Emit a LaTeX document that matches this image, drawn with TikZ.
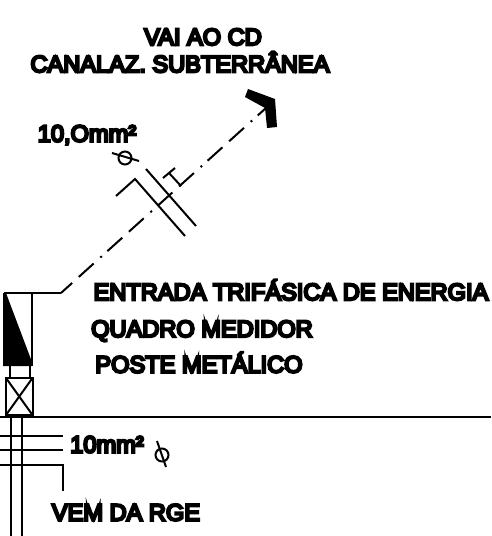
\documentclass[tikz,border=0pt]{standalone}
\usepackage{fontspec}
\newfontfamily\lblfont[FakeBold=10]{Liberation Sans}
\tikzset{
  wire/.style={line width=2pt,line cap=butt,line join=miter},
  lbl/.style={inner sep=0pt,font=\lblfont\fontsize{23.6}{23.6}\selectfont,text=black},
  axisline/.style={wire,dash pattern=on 20pt off 9pt on 20pt off 9pt on 2pt off 7.5pt,dash phase=5pt}
}
\begin{document}
\begin{tikzpicture}[x=1pt,y=-1pt]
\useasboundingbox (0,0) rectangle (491,536);
% labels
\node[lbl] (t1) at (203,37) {VAI AO CD};
\node[lbl] (t2) at (180,62) {CANALAZ. SUBTERRÂNEA};
\node[lbl] (t3) at (87,135) {10,Omm²};
\node[lbl] (t4) at (291,290) {ENTRADA TRIFÁSICA DE ENERGIA};
\node[lbl] (t5) at (202,331) {QUADRO MEDIDOR};
\node[lbl] (t6) at (199,362.5) {POSTE METÁLICO};
\node[lbl] (t7) at (107,444.5) {10mm²};
\node[lbl] (t8) at (126,512.5) {VEM DA RGE};
% route to CD
\coordinate (boxTL) at (4,293);
\coordinate (bend) at (61,293);
\coordinate (tip) at (266,108);
\draw[wire] (boxTL) -- (bend);
\draw[axisline] (bend) -- (tip);
\fill (248,89) -- (275,99) -- (277,127) -- (267,128) -- (265,108) -- (245,97) -- cycle;
% conduit crossing symbol
\draw[wire] (146,169) -- (196,226);
\draw[wire] (116,196) -- (135,179) -- (185,236);
\draw[wire] (163,178) -- (175,168);
\draw[wire] (169,173) -- (181,186);
% phi symbols
\draw[wire] (125,158) circle (6.5);
\draw[wire] (112,153) -- (139,161);
\draw[wire] (162,455) circle (6.5);
\draw[wire] (157,441) -- (166,467);
% meter
\fill (3,293) -- (3,366) -- (32,366) -- (32,362) -- (6,293) -- cycle;
\draw[wire] (32,293) -- (32,366);
\draw[wire] (10,366) -- (10,378);
\draw[wire] (30,366) -- (30,378);
\draw[wire] (6,378) rectangle (32.5,415);
\draw[wire] (6,378) -- (32.5,415);
\draw[wire] (32.5,378) -- (6,415);
% ground and conduit
\draw[wire] (0,417) -- (491,417);
\draw[wire] (10.5,415) -- (10.5,536);
\draw[wire] (22,415) -- (22,536);
\draw[wire] (0,436) -- (63,436);
\draw[wire] (0,450) -- (63,450);
\draw[wire] (0,465) -- (62.5,465) -- (62.5,491);
\end{tikzpicture}
\end{document}
